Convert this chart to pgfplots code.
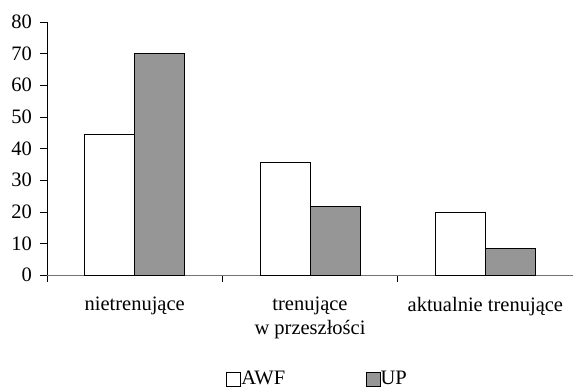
\documentclass[border=0pt]{standalone}
\usepackage{fontspec}
\setmainfont{Liberation Serif}
\usepackage{pgfplots}
\pgfplotsset{compat=1.18}
\definecolor{upgray}{RGB}{150,150,150}
\begin{document}
\fontsize{20.5}{23.5}\selectfont
\begin{tikzpicture}
\begin{axis}[
  at={(47pt,113pt)}, anchor=south west,
  scale only axis, width=526pt, height=253pt,
  xmin=-0.5, xmax=2.5, ymin=0, ymax=80,
  ybar=0pt, bar width=50pt,
  axis x line*=bottom, axis y line*=left,
  x axis line style={draw=black!55, -},
  y axis line style={draw=black, -},
  xtick={-0.5,0.5,1.5,2.5}, xticklabels={},
  extra x ticks={0,1,2},
  extra x tick labels={nietrenujące, {trenujące\\w przeszłości}, aktualnie trenujące},
  extra x tick style={major tick length=0pt, tick label style={align=center, yshift=-15pt}},
  ytick={0,10,...,80},
  tick align=outside, major tick length=7pt,
  tick style={draw=black, thin},
  /pgf/number format/assume math mode=true,
  yticklabel style={xshift=-1pt},
  legend style={at={(0.513,-0.411)}, anchor=center, draw=none, fill=none,
    legend columns=2, inner sep=0pt,
    /tikz/every even column/.append style={column sep=80pt},
    nodes={inner sep=0.5pt}},
]
\addplot[draw=black, fill=white,
  legend image code/.code={\draw[draw=black, fill=white, thin] (0pt,-7pt) rectangle (14pt,7pt);}]
  coordinates {(0,44.5) (1,35.6) (2,20.0)};
\addlegendentry{AWF}
\addplot[draw=black, fill=upgray,
  legend image code/.code={\draw[draw=black, fill=upgray, thin] (0pt,-7pt) rectangle (14pt,7pt);}]
  coordinates {(0,70.0) (1,21.6) (2,8.5)};
\addlegendentry{UP}
\end{axis}
\pgfresetboundingbox
\path (0,0) rectangle (573pt,388pt);
\end{tikzpicture}
\end{document}
